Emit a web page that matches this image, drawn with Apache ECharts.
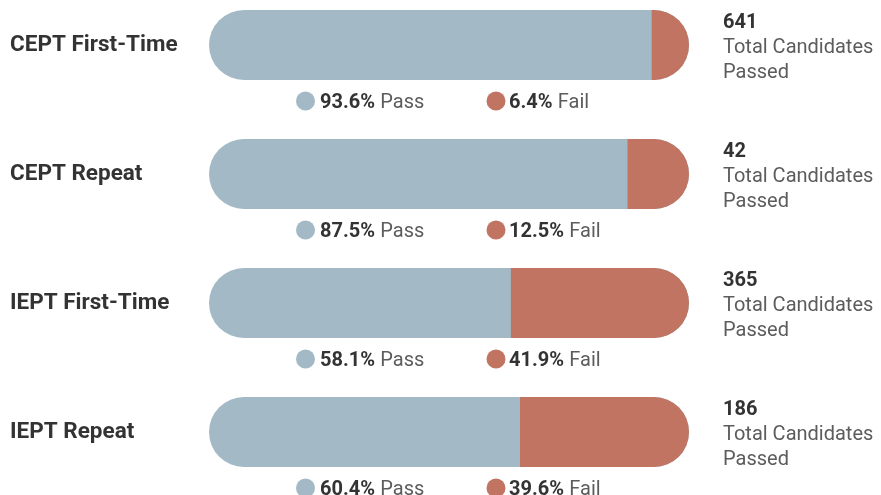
<!DOCTYPE html>
<html>
<head>
<meta charset="utf-8">
<script src="https://cdn.jsdelivr.net/npm/echarts@6/dist/echarts.min.js"></script>
<style>
  html, body { margin: 0; padding: 0; background: #fff; }
  #main { width: 881px; height: 495px; }
</style>
</head>
<body>
<div id="main"></div>
<script>
  // exam categories, top to bottom
  var categories = ['CEPT First-Time', 'CEPT Repeat', 'IEPT First-Time', 'IEPT Repeat'];
  // pass / fail rates in percent
  var passRates = [93.6, 87.5, 58.1, 60.4];
  var failRates = [6.4, 12.5, 41.9, 39.6];
  // total candidates passed
  var totals = [641, 42, 365, 186];

  var PASS_COLOR = '#a3b9c5';
  var FAIL_COLOR = '#c07461';
  var DARK = '#333333';
  var GREY = '#5c5c5c';
  var FONT = 'Roboto, "Noto Sans", sans-serif';

  var chart = echarts.init(document.getElementById('main'));

  var seriesData = [];
  for (var i = 0; i < categories.length; i++) {
    seriesData.push([passRates[i], i]);
  }

  function fmt(v) {
    return v.toFixed(1) + '%';
  }

  var legendRich = {
    b: { fill: DARK, fontFamily: FONT, fontWeight: 'bold', fontSize: 20 },
    n: { fill: GREY, fontFamily: FONT, fontSize: 20, padding: [0, 0, 0, 2] }
  };

  chart.setOption({
    animation: false,
    grid: { left: 209, width: 480, top: -19.5, height: 516, outerBoundsMode: 'none' },
    xAxis: { type: 'value', min: -18, max: 103, show: false },
    yAxis: [{
      type: 'category',
      inverse: true,
      data: categories,
      axisLine: { show: false },
      axisTick: { show: false },
      axisLabel: {
        align: 'left',
        margin: 199,
        color: DARK,
        fontFamily: FONT,
        fontWeight: 'bold',
        fontSize: 22.5
      }
    }, {
      type: 'category',
      inverse: true,
      position: 'right',
      data: categories,
      axisLine: { show: false },
      axisTick: { show: false },
      axisLabel: {
        margin: 34,
        padding: [5, 0, 0, 0],
        formatter: function (value, index) {
          return '{n|' + totals[index] + '}\n{t|Total Candidates}\n{t|Passed}';
        },
        rich: {
          n: { color: DARK, fontFamily: FONT, fontWeight: 'bold', fontSize: 20, lineHeight: 25 },
          t: { color: GREY, fontFamily: FONT, fontSize: 20, lineHeight: 25 }
        }
      }
    }],
    series: [{
      type: 'custom',
      encode: { x: 0, y: 1 },
      data: seriesData,
      renderItem: function (params, api) {
        var cs = params.coordSys;
        var idx = api.value(1);
        var pt = api.coord([api.value(0), idx]);
        var cy = pt[1];
        var h = 70, r = 35;
        var right = cs.x + cs.width;
        var ly = cy + 56;
        return {
          type: 'group',
          children: [{
            type: 'rect',
            shape: { x: cs.x, y: cy - r, width: cs.width, height: h, r: r },
            style: { fill: PASS_COLOR }
          }, {
            type: 'rect',
            shape: { x: pt[0], y: cy - r, width: right - pt[0], height: h, r: [0, r, r, 0] },
            style: { fill: FAIL_COLOR }
          }, {
            type: 'circle',
            shape: { cx: 305.5, cy: ly, r: 9.5 },
            style: { fill: PASS_COLOR }
          }, {
            type: 'text',
            x: 320, y: ly + 2,
            style: {
              text: '{b|' + fmt(passRates[idx]) + '} {n|Pass}',
              verticalAlign: 'middle',
              rich: legendRich
            }
          }, {
            type: 'circle',
            shape: { cx: 496, cy: ly, r: 9.5 },
            style: { fill: FAIL_COLOR }
          }, {
            type: 'text',
            x: 509, y: ly + 2,
            style: {
              text: '{b|' + fmt(failRates[idx]) + '} {n|Fail}',
              verticalAlign: 'middle',
              rich: legendRich
            }
          }]
        };
      }
    }]
  });
</script>
</body>
</html>
